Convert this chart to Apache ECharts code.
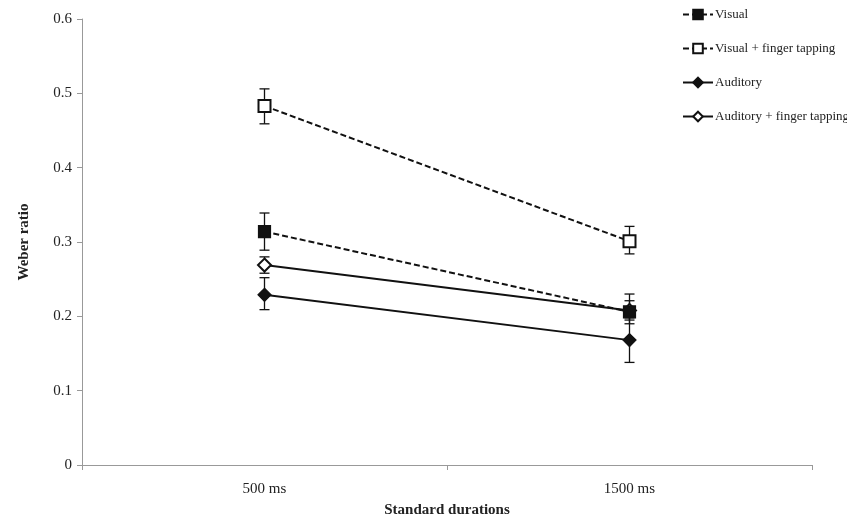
<!DOCTYPE html>
<html>
<head>
<meta charset="utf-8">
<script src="https://cdn.jsdelivr.net/npm/echarts@6/dist/echarts.min.js"></script>
<style>html,body{margin:0;padding:0;background:#fff}#c{width:847px;height:523px}</style>
</head>
<body>
<div id="c"></div>
<script>
var categories = ['500 ms', '1500 ms'];
var seriesNames = ['Visual', 'Visual + finger tapping', 'Auditory', 'Auditory + finger tapping'];
var visual = [0.314, 0.206];
var visualLow = [0.289, 0.190];
var visualHigh = [0.339, 0.230];
var visualTap = [0.483, 0.301];
var visualTapLow = [0.459, 0.284];
var visualTapHigh = [0.506, 0.321];
var auditory = [0.229, 0.168];
var auditoryLow = [0.209, 0.138];
var auditoryHigh = [0.252, 0.198];
var auditoryTap = [0.269, 0.208];
var auditoryTapLow = [0.258, 0.195];
var auditoryTapHigh = [0.280, 0.221];
var yTicks = [0, 0.1, 0.2, 0.3, 0.4, 0.5, 0.6];

var font = '"Liberation Serif", "DejaVu Serif", serif';

function errSeries(low, high) {
  var data = low.map(function (l, i) { return [i, l, high[i]]; });
  return {
    type: 'custom',
    z: 1,
    silent: true,
    data: data,
    renderItem: function (params, api) {
      var x = api.value(0);
      var lo = api.coord([x, api.value(1)]);
      var hi = api.coord([x, api.value(2)]);
      var w = 5;
      var st = { stroke: '#111', lineWidth: 1.3 };
      return {
        type: 'group',
        children: [
          { type: 'line', shape: { x1: lo[0], y1: lo[1], x2: hi[0], y2: hi[1] }, style: st },
          { type: 'line', shape: { x1: lo[0] - w, y1: lo[1], x2: lo[0] + w, y2: lo[1] }, style: st },
          { type: 'line', shape: { x1: hi[0] - w, y1: hi[1], x2: hi[0] + w, y2: hi[1] }, style: st }
        ]
      };
    }
  };
}

function lineSeries(name, data, dashed, symbol, size, z) {
  return {
    name: name,
    type: 'line',
    z: z,
    data: data,
    symbol: symbol,
    symbolSize: size,
    showAllSymbol: true,
    lineStyle: { color: '#111', width: 2, type: dashed ? [6, 3] : 'solid' },
    itemStyle: { color: '#111', borderColor: '#111', borderWidth: 1.2 }
  };
}

var chart = echarts.init(document.getElementById('c'), null, { renderer: 'canvas' });
chart.setOption({
  animation: false,
  backgroundColor: '#fff',
  grid: { left: 82, right: 35, top: 19, bottom: 56 },
  legend: {
    data: seriesNames,
    orient: 'vertical',
    left: 677,
    top: 3,
    itemWidth: 30,
    itemHeight: 12,
    itemGap: 21,
    textStyle: { fontFamily: font, fontSize: 13, color: '#222', padding: [0, 0, 0, -3] }
  },
  xAxis: {
    type: 'category',
    data: categories,
    boundaryGap: true,
    name: 'Standard durations',
    nameLocation: 'middle',
    nameGap: 38,
    nameTextStyle: { fontFamily: font, fontSize: 15, fontWeight: 'bold', color: '#222' },
    axisLine: { lineStyle: { color: '#999', width: 1 } },
    axisTick: { show: true, length: 5, lineStyle: { color: '#999' } },
    axisLabel: { fontFamily: font, fontSize: 15, color: '#222', margin: 17 }
  },
  yAxis: {
    type: 'value',
    min: 0,
    max: 0.6,
    interval: 0.1,
    name: 'Weber ratio',
    nameLocation: 'middle',
    nameGap: 50,
    nameTextStyle: { fontFamily: font, fontSize: 15, fontWeight: 'bold', color: '#222' },
    splitLine: { show: false },
    axisLine: { show: true, lineStyle: { color: '#999', width: 1 } },
    axisTick: { show: true, length: 5, lineStyle: { color: '#999' } },
    axisLabel: {
      fontFamily: font, fontSize: 15, color: '#222', margin: 10,
      formatter: function (v) { return String(+v.toFixed(1)); }
    }
  },
  series: [
    lineSeries(seriesNames[0], visual, true, 'rect', 12, 6),
    lineSeries(seriesNames[1], visualTap, true, 'emptyRect', 12, 5),
    lineSeries(seriesNames[2], auditory, false, 'diamond', 13, 4),
    lineSeries(seriesNames[3], auditoryTap, false, 'emptyDiamond', 13, 3),
    errSeries(visualLow, visualHigh),
    errSeries(visualTapLow, visualTapHigh),
    errSeries(auditoryLow, auditoryHigh),
    errSeries(auditoryTapLow, auditoryTapHigh)
  ]
});
</script>
</body>
</html>
